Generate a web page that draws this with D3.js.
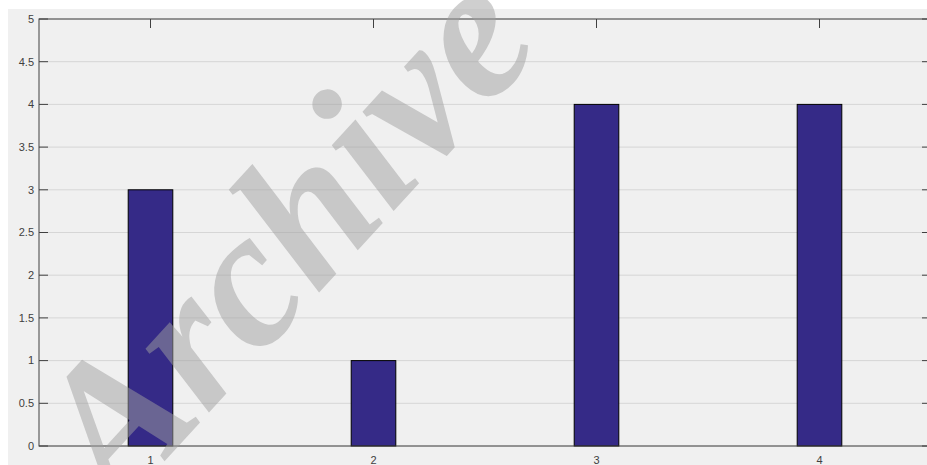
<!DOCTYPE html>
<html>
<head>
<meta charset="utf-8">
<script src="https://cdn.jsdelivr.net/npm/d3@7"></script>
<style>
  html, body { margin: 0; padding: 0; background: #fff; }
  svg { display: block; }
  .axis text { font-family: Arial, 'Liberation Sans', sans-serif; font-size: 11px; fill: #404040; }
</style>
</head>
<body>
<div id="chart"></div>
<script>
const categories = [1, 2, 3, 4];
const values = [3, 1, 4, 4];
const yTicks = [0, 0.5, 1, 1.5, 2, 2.5, 3, 3.5, 4, 4.5, 5];
const xTickLabels = ['1', '2', '3', '4'];
const watermark = 'Archive of SID';

const width = 927;
const height = 465;
const barWidth = 0.2; // in data units
const tickLen = 9;

const svg = d3.select('#chart')
  .append('svg')
  .attr('width', width)
  .attr('height', height);

// figure background
svg.append('rect')
  .attr('x', 8).attr('y', 9)
  .attr('width', width - 8).attr('height', height - 9)
  .attr('fill', '#f0f0f0');

const x = d3.scaleLinear().domain([0.5, 4.5]).range([39, 931]);
const y = d3.scaleLinear().domain([0, 5]).range([446, 19]);

// grid
svg.append('g')
  .selectAll('line')
  .data(yTicks)
  .enter()
  .append('line')
  .attr('x1', x(0.5)).attr('x2', x(4.5))
  .attr('y1', d => y(d)).attr('y2', d => y(d))
  .attr('stroke', '#d6d6d6')
  .attr('stroke-width', 1);

// tick marks (inward, both sides)
const ticks = svg.append('g').attr('stroke', '#404040').attr('stroke-width', 1);
yTicks.forEach(t => {
  ticks.append('line').attr('x1', x(0.5)).attr('x2', x(0.5) + tickLen).attr('y1', y(t)).attr('y2', y(t));
  ticks.append('line').attr('x1', x(4.5)).attr('x2', x(4.5) - tickLen).attr('y1', y(t)).attr('y2', y(t));
});
categories.forEach(c => {
  ticks.append('line').attr('x1', x(c)).attr('x2', x(c)).attr('y1', y(5)).attr('y2', y(5) + tickLen);
  ticks.append('line').attr('x1', x(c)).attr('x2', x(c)).attr('y1', y(0)).attr('y2', y(0) - tickLen);
});

// bars
svg.append('g')
  .selectAll('rect')
  .data(values)
  .enter()
  .append('rect')
  .attr('x', (d, i) => x(categories[i] - barWidth / 2))
  .attr('width', x(barWidth) - x(0))
  .attr('y', d => y(d))
  .attr('height', d => y(0) - y(d))
  .attr('fill', '#352a87')
  .attr('stroke', '#000')
  .attr('stroke-width', 1);

// box
svg.append('rect')
  .attr('x', x(0.5)).attr('y', y(5))
  .attr('width', x(4.5) - x(0.5)).attr('height', y(0) - y(5))
  .attr('fill', 'none')
  .attr('stroke', '#404040')
  .attr('stroke-width', 1);

// y labels
svg.append('g')
  .attr('class', 'axis')
  .selectAll('text')
  .data(yTicks)
  .enter()
  .append('text')
  .attr('x', 34)
  .attr('y', d => y(d))
  .attr('dy', '0.35em')
  .attr('text-anchor', 'end')
  .text(d => d);

// x labels
svg.append('g')
  .attr('class', 'axis')
  .selectAll('text')
  .data(categories)
  .enter()
  .append('text')
  .attr('x', d => x(d))
  .attr('y', 460)
  .attr('dy', '0.35em')
  .attr('text-anchor', 'middle')
  .text((d, i) => xTickLabels[i]);

// watermark on top of everything
svg.append('text')
  .attr('transform', 'translate(118,512) rotate(-47.5)')
  .attr('font-family', "'Liberation Serif', 'DejaVu Serif', serif")
  .attr('font-weight', 'bold')
  .attr('font-style', 'italic')
  .attr('font-size', 196)
  .attr('fill', '#a0a0a0')
  .attr('fill-opacity', 0.5)
  .text(watermark);
</script>
</body>
</html>
